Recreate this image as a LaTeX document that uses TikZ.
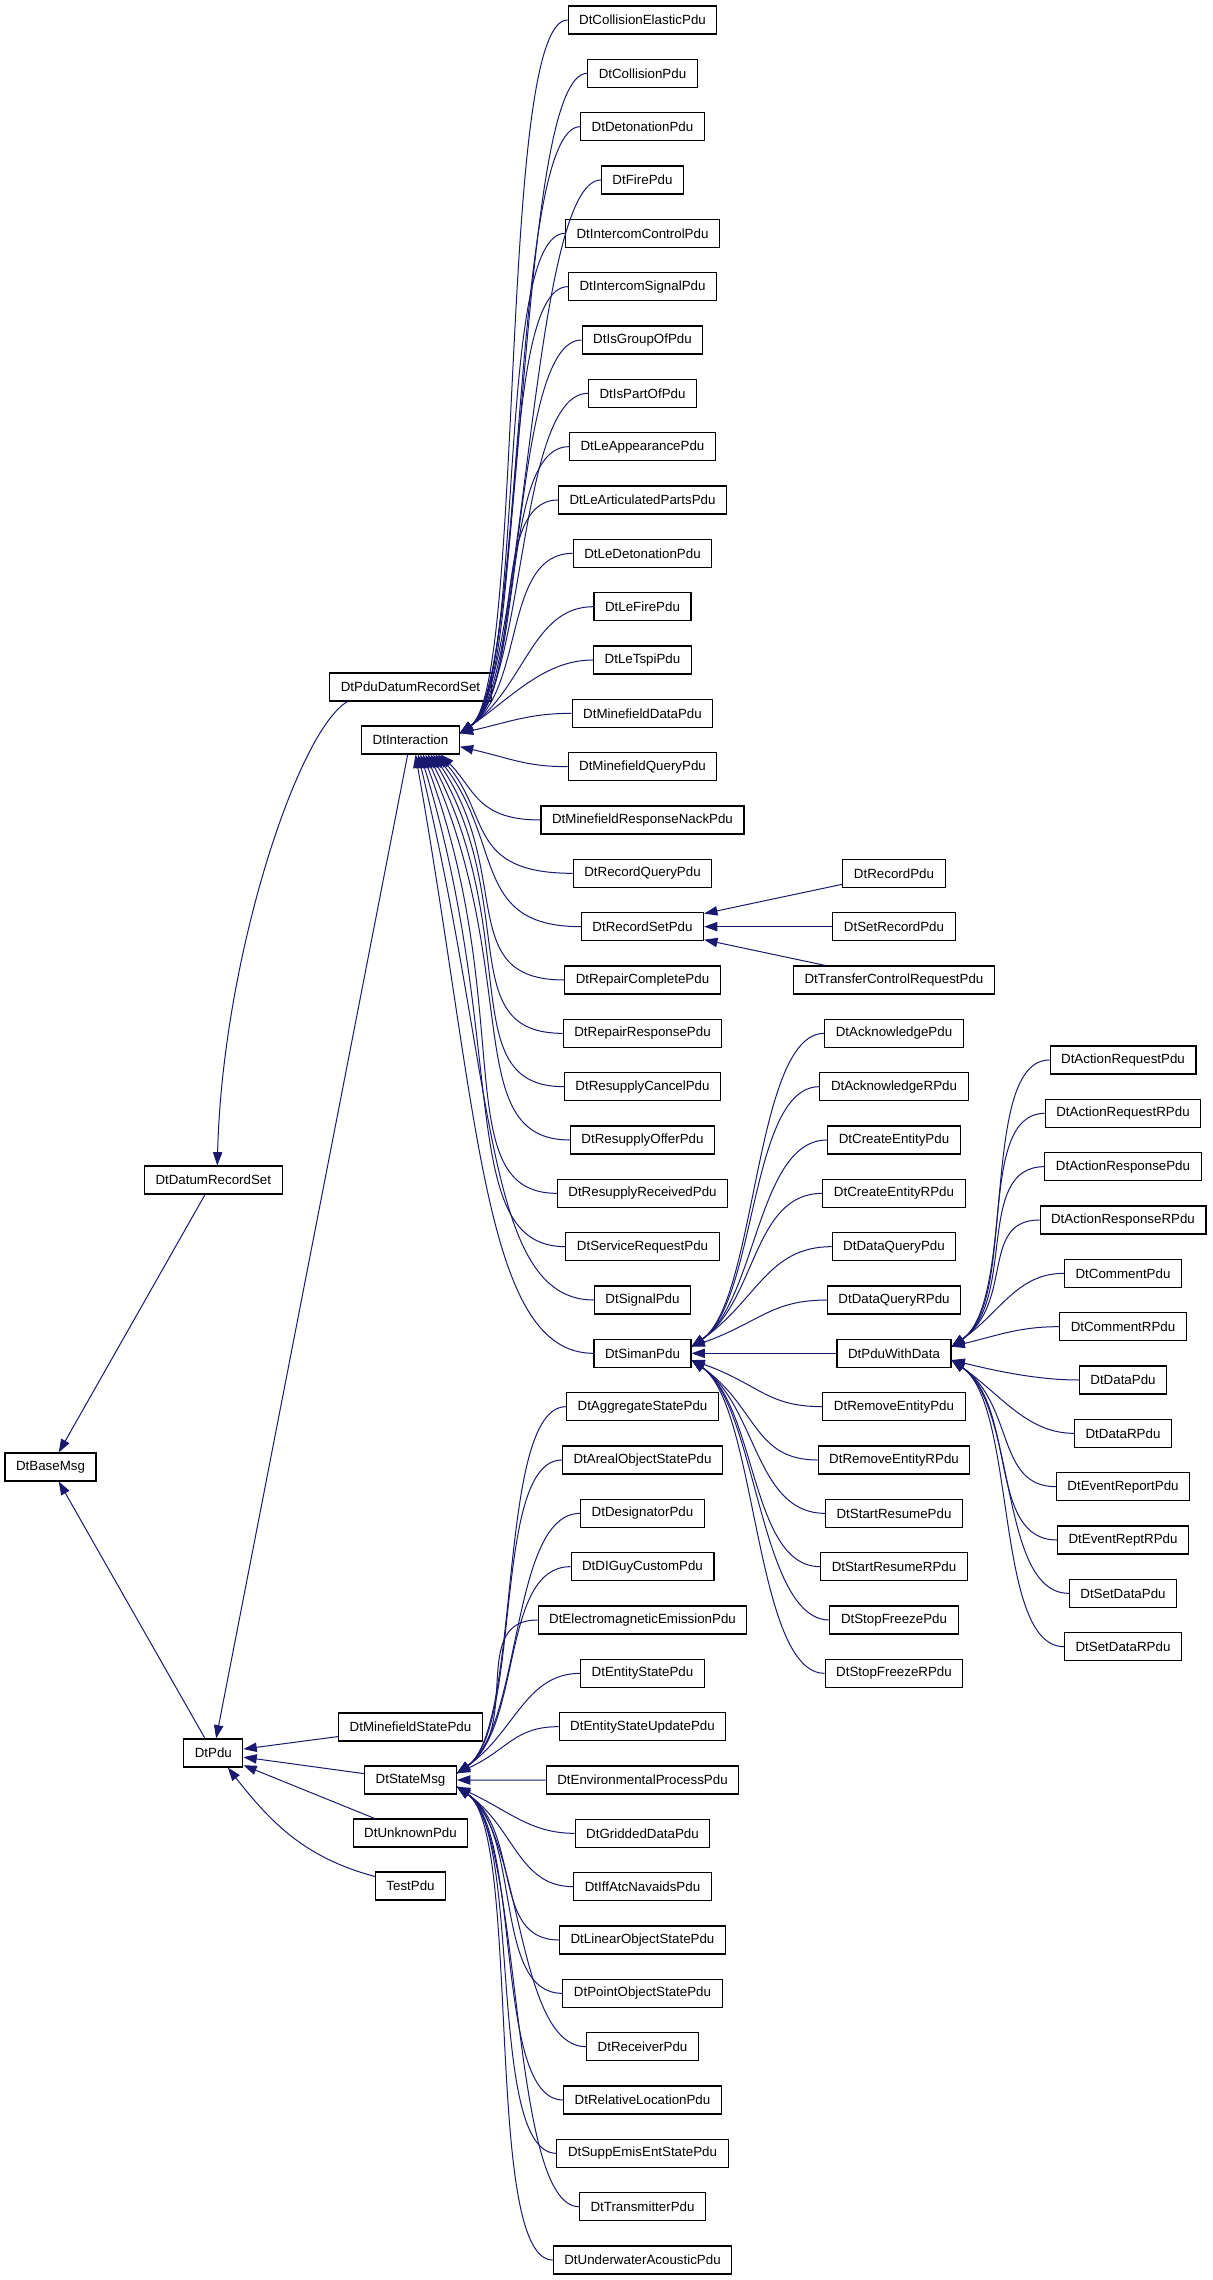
\documentclass[tikz,border=0pt]{standalone}
\usepackage{fontspec}
\setmainfont{Liberation Sans}
\usetikzlibrary{arrows.meta}
\definecolor{midnight}{HTML}{191970}
% curved edge from a child (#1) into the east side of its parent (#2),
% #3 = row offset of the child (positive above), #4 = horizontal gap
\newcommand\fanedge[4]{%
  \pgfmathsetmacro\fdy{53.333*(#3)}%
  \pgfmathsetmacro\fsg{(\fdy>0)-(\fdy<0)}%
  \pgfmathsetmacro\fang{\fsg*min(35,atan(abs(\fdy)/#4))}%
  \pgfmathsetmacro\flen{min(80,0.45*veclen(\fdy,#4))}%
  \pgfmathsetmacro\flead{min(70,0.35*veclen(\fdy,#4))}%
  \draw[edge] (#1.west) .. controls +(-\flead,0) and +(\fang:\flen) .. ([yshift=\fsg*5pt]#2.east);%
}
\begin{document}
\begin{tikzpicture}[x=0.75pt, y=0.75pt, box/.style={draw, rectangle, line width=0.8pt, inner xsep=8.3pt, inner ysep=0pt, minimum height=21pt, font=\fontsize{10}{12}\selectfont}, edge/.style={midnight, line width=0.75pt, -{Triangle[length=10pt, width=7pt]}}]
	\path[use as bounding box, fill=white] (0,0) rectangle (1213,-2280);
	\node[box] (Base) at (50.5, -1467) {DtBaseMsg};
	\node[box] (Datum) at (213.3, -1180) {DtDatumRecordSet};
	\node[box] (Pdu) at (213.3, -1753) {DtPdu};
	\node[box] (PduDatum) at (410.5, -687) {DtPduDatumRecordSet};
	\node[box] (Inter) at (410.5, -740) {DtInteraction};
	\node[box] (MineState) at (410.5, -1727) {DtMinefieldStatePdu};
	\node[box] (StateMsg) at (410.5, -1780) {DtStateMsg};
	\node[box] (Unknown) at (410.5, -1833) {DtUnknownPdu};
	\node[box] (Test) at (410.5, -1886) {TestPdu};
	\foreach \txt [count=\i from 0] in {DtCollisionElasticPdu, DtCollisionPdu, DtDetonationPdu, DtFirePdu, DtIntercomControlPdu, DtIntercomSignalPdu, DtIsGroupOfPdu, DtIsPartOfPdu, DtLeAppearancePdu, DtLeArticulatedPartsPdu, DtLeDetonationPdu, DtLeFirePdu, DtLeTspiPdu, DtMinefieldDataPdu, DtMinefieldQueryPdu, DtMinefieldResponseNackPdu, DtRecordQueryPdu, DtRecordSetPdu, DtRepairCompletePdu, DtRepairResponsePdu, DtResupplyCancelPdu, DtResupplyOfferPdu, DtResupplyReceivedPdu, DtServiceRequestPdu, DtSignalPdu, DtSimanPdu}
		\node[box] (I\i) at (642.5, {-20-53.333*\i}) {\txt};
	\foreach \txt [count=\i from 26] in {DtAggregateStatePdu, DtArealObjectStatePdu, DtDesignatorPdu, DtDIGuyCustomPdu, DtElectromagneticEmissionPdu, DtEntityStatePdu, DtEntityStateUpdatePdu, DtEnvironmentalProcessPdu, DtGriddedDataPdu, DtIffAtcNavaidsPdu, DtLinearObjectStatePdu, DtPointObjectStatePdu, DtReceiverPdu, DtRelativeLocationPdu, DtSuppEmisEntStatePdu, DtTransmitterPdu, DtUnderwaterAcousticPdu}
		\node[box] (S\i) at (642.5, {-20-53.333*\i}) {\txt};
	\foreach \txt [count=\i from 16] in {DtRecordPdu, DtSetRecordPdu, DtTransferControlRequestPdu}
		\node[box] (R\i) at (894, {-20-53.333*\i}) {\txt};
	\foreach \txt [count=\i from 19] in {DtAcknowledgePdu, DtAcknowledgeRPdu, DtCreateEntityPdu, DtCreateEntityRPdu, DtDataQueryPdu, DtDataQueryRPdu, DtPduWithData, DtRemoveEntityPdu, DtRemoveEntityRPdu, DtStartResumePdu, DtStartResumeRPdu, DtStopFreezePdu, DtStopFreezeRPdu}
		\node[box] (M\i) at (894, {-20-53.333*\i}) {\txt};
	\foreach \txt [count=\i] in {DtActionRequestPdu, DtActionRequestRPdu, DtActionResponsePdu, DtActionResponseRPdu, DtCommentPdu, DtCommentRPdu, DtDataPdu, DtDataRPdu, DtEventReportPdu, DtEventReptRPdu, DtSetDataPdu, DtSetDataRPdu}
		\node[box] (W\i) at (1123, {-20-53.333*(18.5+\i)}) {\txt};
	% base classes
	\draw[edge] (Datum) -- (Base);
	\draw[edge] (Pdu) -- (Base);
	\draw[edge] (PduDatum.-167) .. controls +(-50,-29) and +(5,206) .. ([xshift=3pt]Datum.north);
	\draw[edge] (Inter) -- (Pdu);
	\draw[edge] (MineState) -- (Pdu);
	\draw[edge] (StateMsg) -- (Pdu);
	\draw[edge] (Unknown) -- (Pdu);
	\draw[edge] (Test.165) to[out=165, in=-52] (Pdu.-45);
	% DtInteraction
	\foreach \i in {0,...,14} {\fanedge{I\i}{Inter}{13.5-\i}{115}}
	\foreach \i in {15,...,25} {
		\pgfmathsetmacro\fdy{53.333*(\i-13.5)}
		\pgfmathsetmacro\foff{0.75*(30-2.5*(\i-15))}
		\pgfmathsetmacro\fang{-45-3.5*(\i-15)}
		\pgfmathsetmacro\flead{min(110,0.8*\fdy)}
		\pgfmathsetmacro\fdrop{0.6*\fdy}
		\draw[edge] (I\i.west) .. controls +(-\flead,0) and +(\fang:\fdrop) .. ([xshift=\foff pt]Inter.south);
	}
	\foreach \i in {16,17,18} \draw[edge] (R\i) -- (I17);
	% DtStateMsg, DtSimanPdu, DtPduWithData
	\foreach \i in {26,...,42} {\fanedge{S\i}{StateMsg}{33-\i}{115}}
	\foreach \i in {19,...,31} {\fanedge{M\i}{I25}{25-\i}{150}}
	\foreach \i in {1,...,12} {\fanedge{W\i}{M25}{6.5-\i}{108}}
\end{tikzpicture}
\end{document}
